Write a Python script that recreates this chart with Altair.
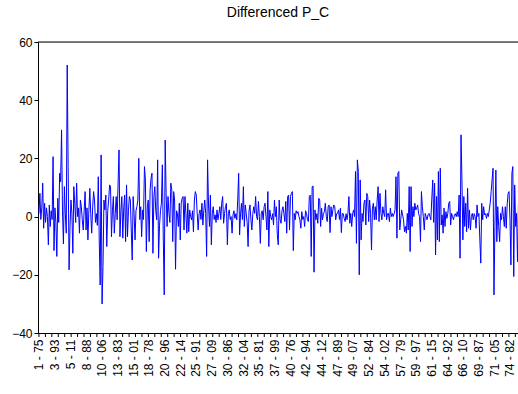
import altair as alt
import pandas as pd

# First difference of P_C, stacked panel (75 cross-sections x 41 years, 1975-2015),
# sampled every 6 observations.
OBS_STEP = 6
D_PC = [
    1, 8, -1, 3, 11.5, -4, 4.6, -2, 3, 0,
    -9.7, 4, -3.4, 2, -1, 20.6, -11.7, 3, -2, -13.7,
    6.3, -2, 14.9, 12, 29.8, 2, -9.4, 10.3, 1, -5.7,
    52.1, 17.2, -18.3, -3.4, 5.7, 1, -12.6, 10.3, 4.6, -2,
    11.5, 0, 3, -5.7, 5.7, 3.4, -1, -4.6, 2, 8.6,
    -4.6, 3, -8, 2, 9.7, 1, -5.7, 3, 8.6, 5.7,
    -2, 1, -3, 13.7, -8, -23.5, 21.2, -30, -17.2, 5.7,
    2.3, 7.4, -10.3, 2, 5.7, 10.9, 10.3, -6.9, 2, 6.9,
    -5.7, 1, 6.9, -1.1, 11.5, 22.9, -6.9, 2, 6.9, -7.4,
    3, 7.4, -8.6, 10.9, -6.9, 2, 6.9, 5.7, -4.6, -14.9,
    6.9, 1, -8, 2, 3.4, 5.7, 20, -1, 3.4, -6.9,
    2.3, -1, 17.2, 12.6, -12, 3, 5.7, -8.6, 9.2, 13.2,
    14.9, -12.6, 6.9, 10.3, 2, -1.1, 19.5, -14.3, -3, 2,
    4.6, 17.8, -8, -26.9, 26.3, 8, -3.4, 6.9, 1.1, -2,
    11.5, 9.2, -8.6, 8.6, 5.7, -18.1, 2, 1.1, -3.4, 4.6,
    -8, 4.6, 6.3, 6.9, -4.6, 6.9, 1, -5.7, 4.6, -5.2,
    2.3, 0, -1.1, 2, -5.2, 5.7, 8.6, 7.4, 1, -4.6,
    1, 2.3, -1, 4.6, -2.9, 2, 5.7, 1, -13.7, 19.5,
    4, -3.4, 7.4, -9.7, 1, 3.4, -1, 0.6, -2, 2.3,
    -1.1, 1, 3.4, -1, 4.6, 6.9, -2.3, 1, 3.4, 4.6,
    -9.7, 1, 2.3, -1, 0, -5.7, 0.6, 2, -0.6, 1,
    -1.1, 5.7, 14.9, -6.3, 1, 4.6, -1, 10.3, -3.4, 4,
    1.1, -2, -10.3, 2, 4, -1, -4.6, 1, 3.4, 1.1,
    6.9, 0, -1.1, 5.2, 0, -9.2, 1.1, 2, -1.1, 3.4,
    4.6, 0, -4.6, 8.6, -10.3, 2.3, 0, -1.1, 1, -2.9,
    5.7, 0, 3.4, -6.3, -9.7, 5.7, -1, -2.3, 2, 3.4,
    1.1, -1.7, 5.2, -5.7, 6.9, 7.4, -4.6, 6.9, 8, 8.6,
    -11.7, 1.1, -1.1, 2, 1.1, 1.7, 0, -1.1, -4, 1.7,
    -1, 0, -3.4, 2, 1.1, -1.1, -1.7, 6.9, 7.4, -13.7,
    10.3, 10.5, -19.1, 2.3, -1.1, 1, -2.3, 6.3, 5.7, -3.4,
    2.9, -1.1, 1, 1.7, 4.6, 0, -1.7, 3.4, 4, -5.5,
    3.4, 0, 2.3, 4, 3.4, -1.1, 1, 1.1, 2.3, -1,
    2.9, -5.5, 1.1, 1, -0.6, -1.7, 1, -1.1, 1.1, 6.9,
    -2.3, 1.1, -3.4, 1, 2.3, 0, 15.5, -9.2, 19.5, 15.5,
    -20, 12.6, -8, 1.1, -1.7, 4.6, 5.7, -2.9, 8, 6.9,
    -1.7, 5.7, 1.1, -11.5, 2.9, 4.6, -1.1, 3.4, -1.1, 5.7,
    10.3, -1.7, 8, 1.1, -1.1, 3.4, 1.1, 0, 9.2, -1.1,
    1, 1.1, -1.7, 2.9, 0, 1.1, 0, 1, 2.3, 13.7,
    -7.4, 14.9, 15.5, -4.6, -1.1, 2.3, 0.6, -1.1, -5.2, -3.4,
    -5.7, 1.1, -4.6, 10.3, -12, 10.3, -3.4, 3.4, 0, 4.6,
    2.3, 2.9, 4, 1, 0, -8.6, 8.6, 3.4, 0, -4.6,
    1.1, 0, -1.1, 0.6, 1.1, 0, -1.1, 6.3, 12.6, -2,
    11.5, -13.2, 6.9, -8, 15.5, -8.6, 16.6, -2.9, 0.6, -5.7,
    2.9, -3.4, 1.7, -0.6, 1.1, 4.6, 5.2, -2.9, 1.1, 0,
    -1.1, 0.6, 1, 0, 1.7, 0, 7.4, -14.3, 28.1, 12.6,
    -8, 6.9, -3.4, 4.6, -5.2, 9.7, -4, 2.3, -4.6, 0,
    1.1, -1.1, 1, 0, -4, 4, 0, 1.1, -8, -16,
    4.6, -1.1, 3.4, 0.6, 1, -0.6, 1.1, 0, 2.3, 4.6,
    8.6, 12.6, 16.6, -26.9, -3.4, 16, -8.6, 3.4, -3.4, -8.6,
    1.1, -1.1, 3.4, 0, -3.4, 3.4, -4, 4, 8, 8.6,
    -1.1, -16.6, 14.9, 17.2, -20.6, 10.9, -3.4, 1.1, -15.5, 4.6,
    6, -2, 3,
]

# Axis labels: "cross-section - year", one every 100 observations
OBS_LABELS = [
    "1 - 75", "3 - 93", "5 - 11", "8 - 88", "10 - 06", "13 - 83", "15 - 01",
    "18 - 78", "20 - 96", "22 - 14", "25 - 91", "27 - 09", "30 - 86", "32 - 04",
    "35 - 81", "37 - 99", "40 - 76", "42 - 94", "44 - 12", "47 - 89", "49 - 07",
    "52 - 84", "54 - 02", "57 - 79", "59 - 97", "61 - 15", "64 - 92", "66 - 10",
    "69 - 87", "71 - 05", "74 - 82",
]
PERIODS = 41
N_SECTIONS = 75

FONT = "Liberation Sans"
W, H = 480, 291

df = pd.DataFrame({"obs": [i * OBS_STEP for i in range(len(D_PC))], "d_pc": D_PC})
ticks_df = pd.DataFrame({"obs": list(range(0, PERIODS * N_SECTIONS, PERIODS))})

x_scale = alt.Scale(domain=[-6, 3051], nice=False, zero=False)
y_scale = alt.Scale(domain=[-40, 60], nice=False, zero=False)

label_expr = "[" + ",".join(f"'{s}'" for s in OBS_LABELS) + "][round(datum.value / 100)]"

x_axis = alt.Axis(
    values=list(range(0, 100 * len(OBS_LABELS), 100)),
    labelExpr=label_expr,
    labelAngle=270,
    ticks=False,
    labelPadding=6,
    labelOverlap=False,
    labelFont=FONT,
    labelFontSize=12,
    labelColor="black",
    grid=False,
    title=None,
    domainColor="black",
)

line = alt.Chart(df).mark_line(color="#0000FF", strokeWidth=1, clip=True).encode(
    x=alt.X("obs:Q", scale=x_scale, axis=x_axis),
    y=alt.Y(
        "d_pc:Q",
        scale=y_scale,
        axis=alt.Axis(
            values=[-40, -20, 0, 20, 40, 60],
            tickSize=4,
            tickColor="black",
            labelPadding=2,
            labelFont=FONT,
            labelFontSize=12,
            labelColor="black",
            grid=False,
            title=None,
            domainColor="black",
        ),
    ),
)

# small ticks below the x axis, one per cross-section
section_ticks = alt.Chart(ticks_df).mark_rule(color="black", strokeWidth=1).encode(
    x=alt.X("obs:Q", scale=x_scale, axis=x_axis),
    y=alt.value(H),
    y2=alt.value(H + 4),
)

top_border = alt.Chart(ticks_df.head(1)).mark_rule(color="black", strokeWidth=1).encode(
    x=alt.value(0), x2=alt.value(W), y=alt.value(0)
)

chart = (
    alt.layer(line, section_ticks, top_border)
    .properties(
        width=W,
        height=H,
        autosize=alt.AutoSizeParams(type="none"),
        padding={"left": 38, "top": 42, "right": 0, "bottom": 61},
        title=alt.TitleParams(
            "Differenced P_C",
            font=FONT,
            fontSize=14,
            fontWeight="normal",
            color="black",
            anchor="middle",
            frame="group",
            baseline="alphabetic",
            offset=5,
        ),
    )
    .configure_view(stroke=None)
    .configure_axisX(labelOverlap=False)
    .configure(background="white")
)

chart.save("out.html", embed_options={"renderer": "svg", "actions": False})
